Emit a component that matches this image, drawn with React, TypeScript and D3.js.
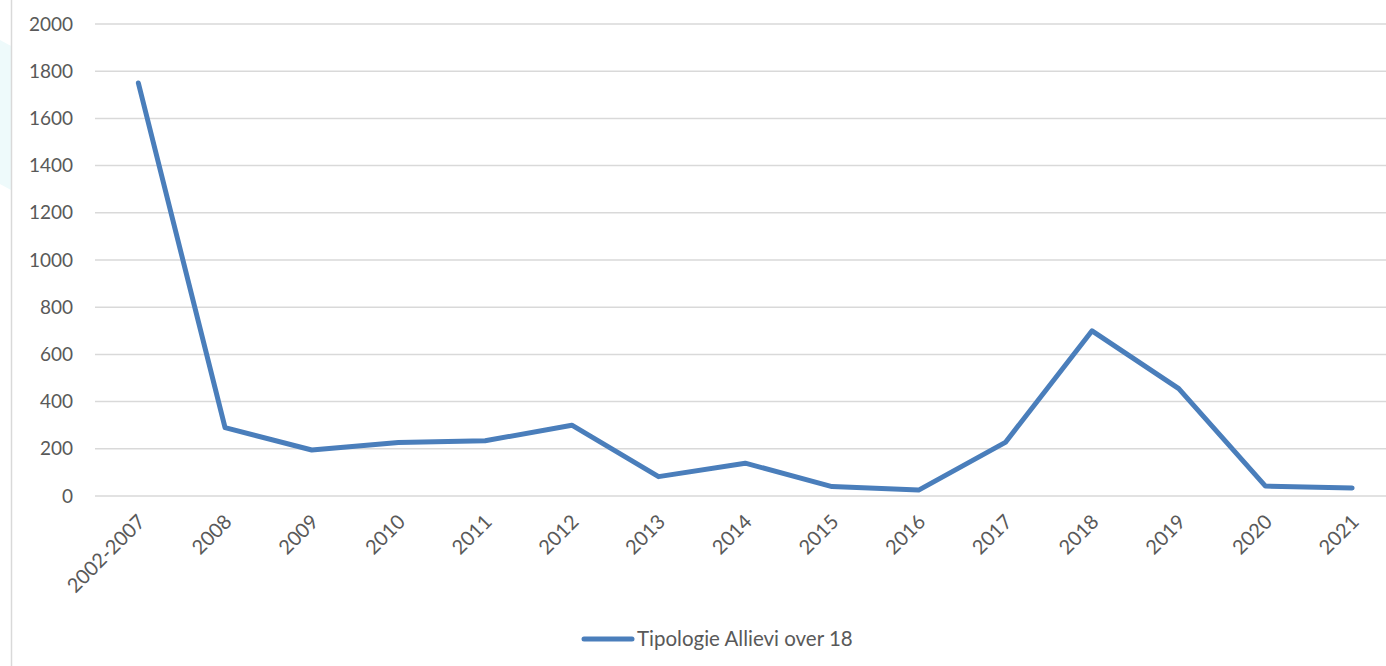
import React from "react";
import * as d3 from "d3";

const categories = ["2002-2007","2008","2009","2010","2011","2012","2013","2014","2015","2016","2017","2018","2019","2020","2021"];
const values = [1750, 290, 195, 227, 234, 300, 82, 139, 40, 25, 227, 700, 455, 42, 34];
const yTicks = [0, 200, 400, 600, 800, 1000, 1200, 1400, 1600, 1800, 2000];
const seriesName = "Tipologie Allievi over 18";

const W = 1386, H = 666;
const FONT = "Lato, 'Open Sans', sans-serif";
const LINE = "#4a7ebb";
const TXT = "#595959";

export default function App() {
  const x = d3.scaleBand<string>().domain(categories).range([95, 95 + 15 * 86.7]).padding(0);
  const y = d3.scaleLinear().domain([0, 2000]).range([496, 24]);
  const cx = (c: string) => (x(c) as number) + x.bandwidth() / 2;
  const line = d3.line<number>().x((_, i) => cx(categories[i])).y(d => y(d));

  return (
    <svg width={W} height={H} style={{ position: "absolute", left: 0, top: 0, background: "#fff" }}>
      <rect x={0} y={0} width={W} height={H} fill="#fff" />
      <path d="M0,40 L11,46 L11,190 L0,184 Z" fill="#eefafb" />
      <line x1={11.5} x2={11.5} y1={0} y2={H} stroke="#d9d9d9" strokeWidth={1.5} />
      {yTicks.map(t => (
        <g key={t}>
          <line x1={95} x2={W} y1={y(t)} y2={y(t)} stroke="#d9d9d9" strokeWidth={1.5} />
          <text x={73} y={y(t)} dy="0.35em" textAnchor="end" fontFamily={FONT} fontSize={19} fill={TXT}>{t}</text>
        </g>
      ))}
      {categories.map(c => (
        <text key={c} transform={`translate(${cx(c) + 8},${523}) rotate(-45)`} textAnchor="end"
          fontFamily={FONT} fontSize={20} fill={TXT}>{c}</text>
      ))}
      <path d={line(values) || ""} fill="none" stroke={LINE} strokeWidth={5} strokeLinejoin="round" strokeLinecap="round" />
      <line x1={584} x2={632} y1={639} y2={639} stroke={LINE} strokeWidth={5} strokeLinecap="round" />
      <text x={637} y={639} dy="0.35em" fontFamily={FONT} fontSize={20.5} fill={TXT}>{seriesName}</text>
    </svg>
  );
}
